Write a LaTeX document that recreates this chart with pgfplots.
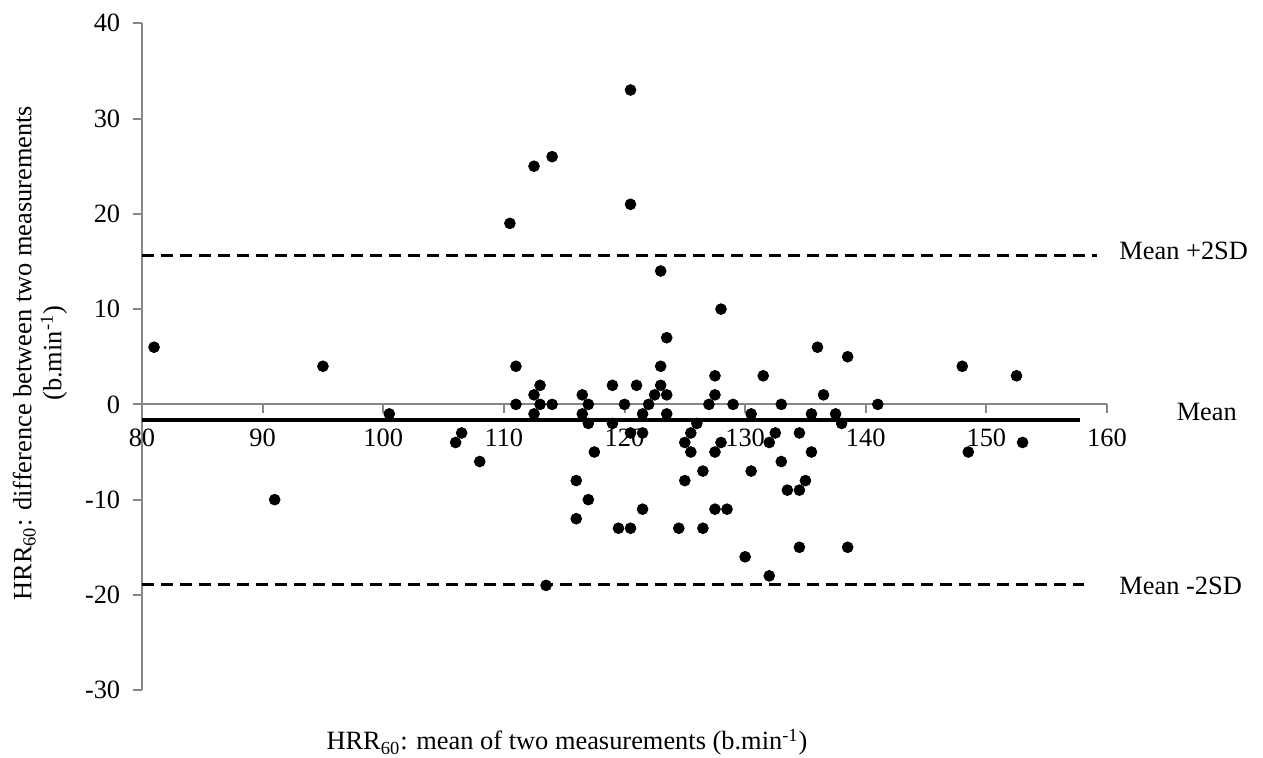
\documentclass[border=0pt]{standalone}
\usepackage{fontspec}
\setmainfont{Liberation Serif}
\usepackage{pgfplots}
\pgfplotsset{compat=1.18}
\definecolor{axgray}{HTML}{868686}

\begin{document}
\fontsize{13.2}{15}\selectfont
\begin{tikzpicture}
\useasboundingbox (-71pt,-33.9pt) rectangle (560.5pt,345.1pt);
\begin{axis}[
    at={(0,0)}, anchor=south west,
    scale only axis,
    width=482.5pt, height=333.45pt,
    xmin=80, xmax=160,
    ymin=-30, ymax=40,
    axis x line=middle,
    axis y line=left,
    axis line style={draw=axgray, line width=1pt, -},
    tick style={draw=axgray, line width=1pt},
    major tick length=4.3pt,
    tick align=outside,
    hide obscured x ticks=false,
    hide obscured y ticks=false,
    xtick={80,90,...,160},
    xticklabels={80,90,100,110,120,130,140,150,160},
    ytick={-30,-20,...,40},
    yticklabels={-30,-20,-10,0,10,20,30,40},
    xticklabel style={font=\fontsize{13.2}{15}\selectfont, yshift=-3.5pt},
    yticklabel style={font=\fontsize{13.2}{15}\selectfont, xshift=-2pt},
    clip=false,
]
    % limits of agreement and mean difference
    \addplot[black, line width=1.3pt, dash pattern=on 6pt off 3.5pt] coordinates {(80,15.6) (159.2,15.6)};
    \addplot[black, line width=1.3pt, dash pattern=on 6pt off 3.5pt] coordinates {(80,-18.9) (158.1,-18.9)};
    \addplot[black, line width=2pt] coordinates {(80,-1.6) (157.8,-1.6)};

    % differences vs means
    \addplot[only marks, mark=*, mark size=2.7pt, black] coordinates {
        (120.5,33) (114,26) (112.5,25) (120.5,21) (110.5,19) (123,14) (128,10) (123.5,7)
        (81,6) (136,6) (138.5,5)
        (95,4) (111,4) (123,4) (148,4)
        (127.5,3) (131.5,3) (152.5,3)
        (113,2) (119,2) (121,2) (123,2)
        (112.5,1) (116.5,1) (122.5,1) (123.5,1) (127.5,1) (136.5,1)
        (111,0) (113,0) (114,0) (117,0) (120,0) (122,0) (127,0) (129,0) (133,0) (141,0)
        (100.5,-1) (112.5,-1) (116.5,-1) (121.5,-1) (123.5,-1) (130.5,-1) (135.5,-1) (137.5,-1)
        (117,-2) (119,-2) (126,-2) (138,-2)
        (106.5,-3) (120.5,-3) (121.5,-3) (125.5,-3) (132.5,-3) (134.5,-3)
        (106,-4) (125,-4) (128,-4) (132,-4) (153,-4)
        (117.5,-5) (125.5,-5) (127.5,-5) (135.5,-5) (148.5,-5)
        (108,-6) (133,-6)
        (126.5,-7) (130.5,-7)
        (116,-8) (125,-8) (135,-8)
        (133.5,-9) (134.5,-9)
        (91,-10) (117,-10)
        (121.5,-11) (127.5,-11) (128.5,-11)
        (116,-12)
        (119.5,-13) (120.5,-13) (124.5,-13) (126.5,-13)
        (134.5,-15) (138.5,-15)
        (130,-16) (132,-18) (113.5,-19)
    };

    \node[anchor=base west, inner sep=0pt] at (axis cs:161,15.2) {Mean +2SD};
    \node[anchor=base west, inner sep=0pt] at (axis cs:165.75,-1.65) {Mean};
    \node[anchor=base west, inner sep=0pt] at (axis cs:161,-20) {Mean -2SD};
\end{axis}
\node[anchor=base, inner sep=0pt] at (212.5pt,-29.9pt) {HRR\textsubscript{60}: mean of two measurements (b.min\textsuperscript{-1})};
\node[rotate=90, align=center, inner sep=0pt] at (-51pt,168.5pt) {HRR\textsubscript{60}: difference between two measurements\\(b.min\textsuperscript{-1})};
\end{tikzpicture}
\end{document}
